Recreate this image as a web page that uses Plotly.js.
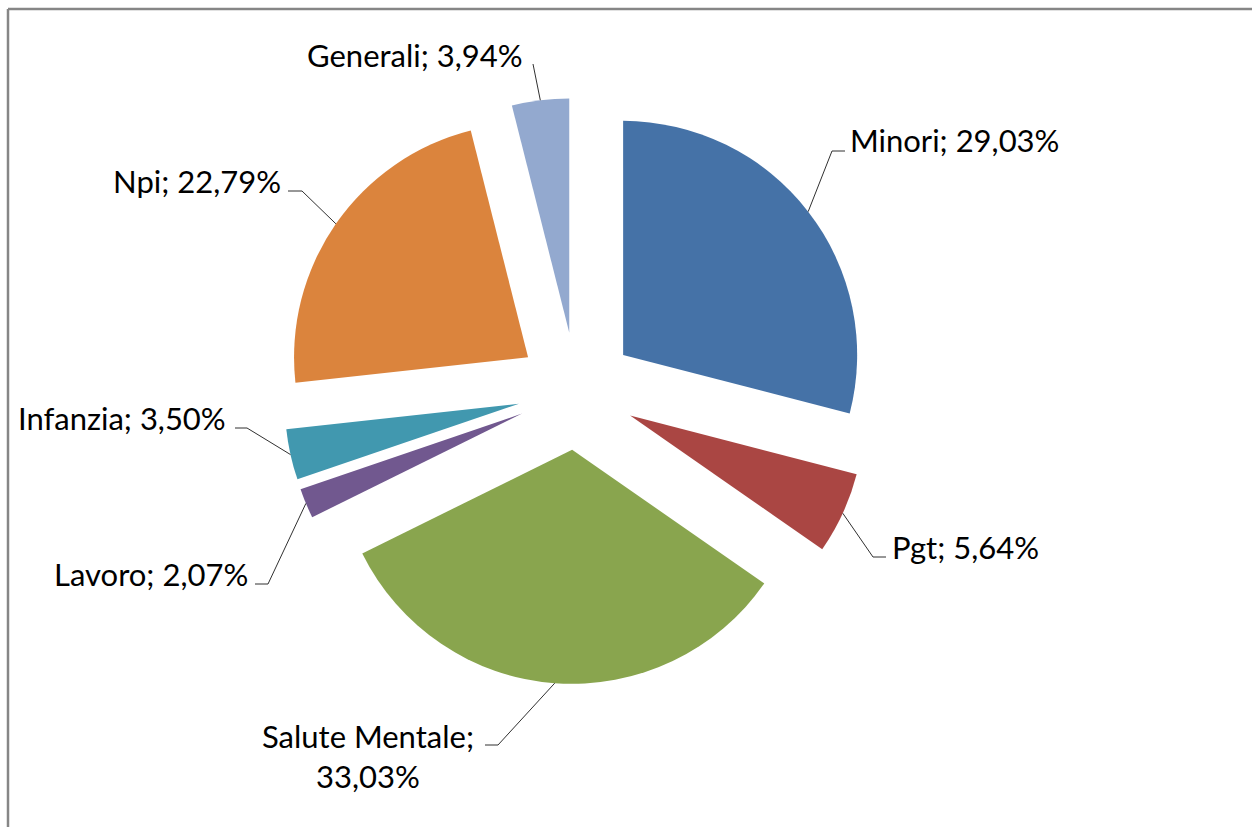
<!DOCTYPE html>
<html>
<head>
<meta charset="utf-8">
<script src="https://cdn.plot.ly/plotly-3.0.1.min.js"></script>
<style>
  html, body { margin: 0; padding: 0; background: #ffffff; }
  #chart { width: 1252px; height: 827px; }
</style>
</head>
<body>
<div id="chart"></div>
<script>
// ---- data ----
const labels = ['Minori', 'Pgt', 'Salute Mentale', 'Lavoro', 'Infanzia', 'Npi', 'Generali'];
const values = [29.03, 5.64, 33.03, 2.07, 3.50, 22.79, 3.94];
const sliceColors = ['#4572A7', '#AA4643', '#89A54E', '#71588F', '#4198AF', '#DB843D', '#93A9CF'];

// ---- layout / style settings ----
const W = 1252, H = 827;
const pull = 0.252;
const domX = [0, 0.92093];
const domY = [0.17292, 0.88150];
const fontFamily = 'Lato, "Liberation Sans", sans-serif';
const fontSize = 31;
// label placement (pixels): text anchor, elbow of leader, end of horizontal stub
const labelPlacement = [
  {x: 848, y: 140, xa: 'left',   elbow: [832, 151], stub: 845},
  {x: 890, y: 547, xa: 'left',   elbow: [873, 557], stub: 886},
  {x: 368, y: 756, xa: 'center', elbow: [498, 745], stub: 485},
  {x: 250, y: 574, xa: 'right',  elbow: [268, 584], stub: 255},
  {x: 228, y: 418, xa: 'right',  elbow: [247, 428], stub: 235},
  {x: 283, y: 181, xa: 'right',  elbow: [302, 191], stub: 288},
  {x: 525, y: 55,  xa: 'right',  elbow: [533, 64],  stub: 533}
];

// ---- geometry derived from the pie's own layout rules ----
const boxW = W * (domX[1] - domX[0]);
const boxH = H * (domY[1] - domY[0]);
const r = Math.min(boxW, boxH) / (2 + 2 * pull);
const cx = W * (domX[0] + domX[1]) / 2;
const cy = H * (1 - (domY[0] + domY[1]) / 2);
const total = values.reduce((a, b) => a + b, 0);

const px = x => x / W;
const py = y => 1 - y / H;

const annotations = [];
const shapes = [];
let cum = 0;
values.forEach((v, i) => {
  const mid = (cum + v / 2) / total * 2 * Math.PI;
  cum += v;
  const dist = r * (1 + pull);
  const ex = cx + dist * Math.sin(mid);
  const ey = cy - dist * Math.cos(mid);
  const p = labelPlacement[i];
  const txt = labels[i] + ';' + (labels[i] === 'Salute Mentale' ? '<br>' : ' ') +
              v.toFixed(2).replace('.', ',') + '%';
  annotations.push({
    x: px(p.x), y: py(p.y), xref: 'paper', yref: 'paper',
    xanchor: p.xa, yanchor: 'middle', align: 'center',
    text: txt, showarrow: false,
    font: {family: fontFamily, size: fontSize, color: '#000000'}
  });
  let path = 'M ' + px(ex) + ' ' + py(ey) + ' L ' + px(p.elbow[0]) + ' ' + py(p.elbow[1]);
  if (p.stub !== p.elbow[0]) path += ' L ' + px(p.stub) + ' ' + py(p.elbow[1]);
  shapes.push({type: 'path', xref: 'paper', yref: 'paper', path: path,
               line: {color: '#303030', width: 1}});
});

// chart area border (top and left edges visible)
shapes.push({type: 'line', xref: 'paper', yref: 'paper',
             x0: px(8), y0: py(9), x1: px(W + 5), y1: py(9),
             line: {color: '#868686', width: 2.5}});
shapes.push({type: 'line', xref: 'paper', yref: 'paper',
             x0: px(8), y0: py(9), x1: px(8), y1: py(H + 5),
             line: {color: '#868686', width: 2.5}});

const trace = {
  type: 'pie',
  labels: labels,
  values: values,
  sort: false,
  direction: 'clockwise',
  rotation: 0,
  pull: values.map(() => pull),
  marker: {colors: sliceColors, line: {width: 0}},
  textinfo: 'none',
  hoverinfo: 'skip',
  domain: {x: domX, y: domY},
  showlegend: false
};

const layout = {
  width: W, height: H,
  margin: {l: 0, r: 0, t: 0, b: 0},
  paper_bgcolor: '#ffffff',
  plot_bgcolor: '#ffffff',
  showlegend: false,
  annotations: annotations,
  shapes: shapes
};

Plotly.newPlot('chart', [trace], layout, {staticPlot: true, displayModeBar: false});
</script>
</body>
</html>
